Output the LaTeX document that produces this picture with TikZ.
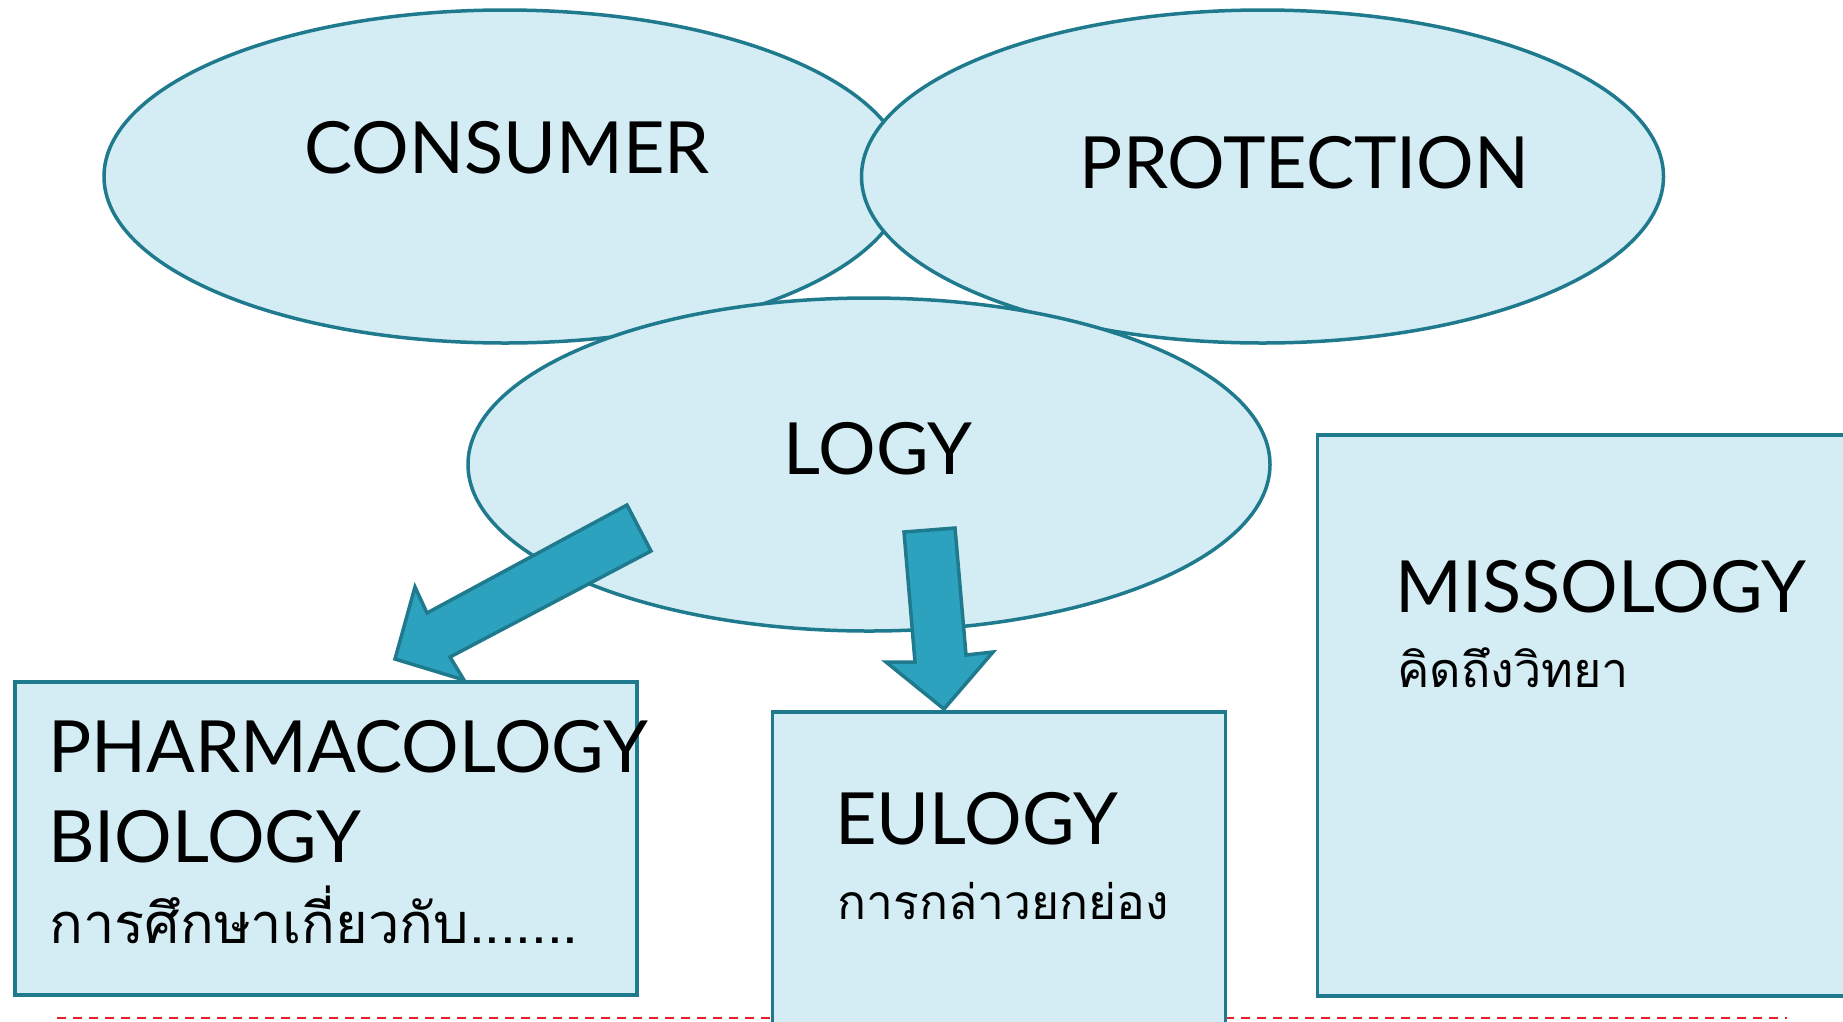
\documentclass[tikz,border=0pt]{standalone}
\usepackage{fontspec}
\setmainfont{Lato}
\newfontfamily\thaifont[Script=Thai]{Loma}
\usetikzlibrary{shapes.geometric}
\definecolor{pale}{RGB}{212,237,244}
\definecolor{edge}{RGB}{31,122,142}
\definecolor{arrowfill}{RGB}{44,162,191}
\definecolor{dashred}{RGB}{228,32,40}
\tikzset{
  bubble/.style={ellipse, draw=edge, fill=pale, line width=3.5pt, minimum width=802pt, minimum height=333pt, inner sep=0pt},
  panel/.style={rectangle, draw=edge, fill=pale, line width=3.5pt, anchor=north west, inner sep=0pt},
  bigword/.style={inner sep=0pt, font=\fontsize{72}{80}\selectfont},
  thaiword/.style={inner sep=0pt, anchor=base west, font=\thaifont\fontsize{#1}{64}\selectfont},
  blockarrow/.style={draw=edge, fill=arrowfill, line width=3.5pt, line join=miter}
}
\begin{document}
\begin{tikzpicture}[x=1pt,y=-1pt]
\useasboundingbox (0,0) rectangle (1843,1021);
\clip (0,0) rectangle (1843,1021);
\fill[white] (0,0) rectangle (1843,1021);
% dashed guide line
\coordinate (dl) at (57,1017.5);
\coordinate (dr) at (1787,1017.5);
\draw[dashred, line width=2pt, dash pattern=on 9pt off 7pt] (dl) -- (dr);
% ellipses
\node[bubble] (cons) at (505,176.5) {};
\node[bubble] (prot) at (1262.5,176.5) {};
\node[bubble] (logy) at (869,464.5) {};
\node[bigword, anchor=base] (tcons) at (507,173) {CONSUMER};
\node[bigword, anchor=base] (tprot) at (1304.5,188) {PROTECTION};
\node[bigword, anchor=base] (tlogy) at (878,474) {LOGY};
% block arrows
\draw[blockarrow] (627,505) -- (651,551) -- (450,657) -- (464,680) -- (395,659) -- (415,587) -- (427,613) -- cycle;
\draw[blockarrow] (904,532) -- (955,528) -- (966,655) -- (993,652) -- (944,709) -- (886,662) -- (915,662) -- cycle;
% boxes
\node[panel, minimum width=621.6pt, minimum height=313pt] (pharm) at (13.4,680) {};
\node[panel, minimum width=453pt, minimum height=340pt] (eul) at (770.5,710) {};
\node[panel, minimum width=560pt, minimum height=561pt] (miss) at (1315.5,433) {};
% texts
\node[bigword, anchor=base west] (t1) at (48,772) {PHARMACOLOGY};
\node[bigword, anchor=base west] (t2) at (48,862) {BIOLOGY};
\node[thaiword=56] (t3) at (49,943) {การศึกษาเกี่ยวกับ.......};
\node[bigword, anchor=base west] (t4) at (835,844) {EULOGY};
\node[thaiword=48] (t5) at (837,919) {การกล่าวยกย่อง};
\node[bigword, anchor=base west] (t6) at (1395,612) {MISSOLOGY};
\node[thaiword=48.5] (t7) at (1397,687) {คิดถึงวิทยา};
\end{tikzpicture}
\end{document}
